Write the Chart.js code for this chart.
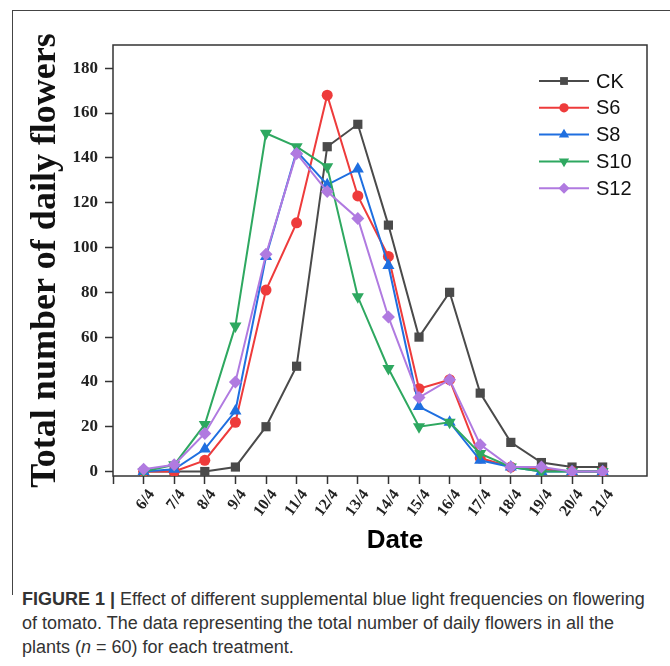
<!DOCTYPE html>
<html>
<head>
<meta charset="utf-8">
<script src="https://cdn.jsdelivr.net/npm/chart.js@4.4.0/dist/chart.umd.min.js"></script>
<style>
  body { margin: 0; background: #fff; }
  #wrap { position: relative; width: 670px; height: 666px; overflow: hidden; background: #fff; }
  #frame { position: absolute; left: 12px; top: 10px; width: 700px; height: 584px; border-left: 1.5px solid #444; border-top: 1.5px solid #444; }
  #grafico { position: absolute; left: 0; top: 0; }
  #legenda { position: absolute; left: 22px; top: 587px; width: 648px; font-family: "Liberation Sans", Arial, sans-serif; font-size: 18px; line-height: 24px; color: #333; white-space: nowrap; }
</style>
</head>
<body>
<div id="wrap">
  <div id="frame"></div>
  <canvas id="grafico" width="670" height="580"></canvas>
  <div id="legenda"><b>FIGURE 1 |</b> Effect of different supplemental blue light frequencies on flowering<br>of tomato. The data representing the total number of daily flowers in all the<br>plants (<i>n</i> = 60) for each treatment.</div>
</div>
<script>
// dados
const datas = ['6/4', '7/4', '8/4', '9/4', '10/4', '11/4', '12/4', '13/4', '14/4', '15/4', '16/4', '17/4', '18/4', '19/4', '20/4', '21/4'];
const ck  = [0, 0, 0, 2, 20, 47, 145, 155, 110, 60, 80, 35, 13, 4, 2, 2];
const s6  = [0, 0, 5, 22, 81, 111, 168, 123, 96, 37, 41, 6, 2, 1, 0, 0];
const s8  = [0, 1, 10, 27, 96, 143, 128, 135, 92, 29, 22, 5, 2, 0, 0, 0];
const s10 = [0, 3, 21, 65, 151, 145, 136, 78, 46, 20, 22, 8, 2, 0, 0, 0];
const s12 = [1, 3, 17, 40, 97, 142, 125, 113, 69, 33, 41, 12, 2, 2, 0, 0];
const yTicks = [0, 20, 40, 60, 80, 100, 120, 140, 160, 180];

const serif = "'Liberation Serif', 'Times New Roman', serif";
const sans = "'Liberation Sans', Arial, sans-serif";

function pontos(valores) {
    return valores.map((v, i) => ({ x: parseInt(datas[i]), y: v }));
}

function serie(nome, valores, cor, estilo, raio, rot, ordem) {
    return {
        label: nome,
        data: pontos(valores),
        borderColor: cor,
        backgroundColor: cor,
        borderWidth: 2,
        pointStyle: estilo,
        pointRadius: raio,
        pointHoverRadius: raio,
        pointRotation: rot,
        pointBorderWidth: 0,
        order: ordem
    };
}

const datasets = [
    serie('CK', ck, '#4a4a4a', 'rect', 6.5, 0, 5),
    serie('S6', s6, '#ee3b3b', 'circle', 5.5, 0, 4),
    serie('S8', s8, '#1f6fe0', 'triangle', 7, 0, 3),
    serie('S10', s10, '#2ea860', 'triangle', 7, 180, 2),
    serie('S12', s12, '#b07ae0', 'rectRot', 6.5, 0, 1)
];

// moldura do gráfico
const moldura = {
    id: 'moldura',
    beforeDatasetsDraw(chart) {
        const { ctx, chartArea: a } = chart;
        ctx.save();
        ctx.strokeStyle = '#333';
        ctx.lineWidth = 1.5;
        ctx.strokeRect(a.left, a.top, a.right - a.left, a.bottom - a.top);
        ctx.restore();
    }
};

// legenda com linha + marcador, e título "Date"
const legendaLinhas = {
    id: 'legendaLinhas',
    afterDraw(chart) {
        const ctx = chart.ctx;
        ctx.save();
        chart.data.datasets.forEach((ds, i) => {
            const y = 81 + i * 26.8;
            ctx.strokeStyle = ds.borderColor;
            ctx.lineWidth = 2;
            ctx.beginPath();
            ctx.moveTo(539, y);
            ctx.lineTo(589, y);
            ctx.stroke();
            ctx.fillStyle = ds.backgroundColor;
            Chart.helpers.drawPoint(ctx, { pointStyle: ds.pointStyle, rotation: ds.pointRotation, radius: ds.pointRadius * 0.85, borderWidth: 0 }, 564, y);
            ctx.fillStyle = '#111';
            ctx.font = '20px ' + sans;
            ctx.textAlign = 'left';
            ctx.textBaseline = 'middle';
            ctx.fillText(ds.label, 596, y + 1);
        });
        ctx.fillStyle = '#000';
        ctx.font = 'bold 26px ' + sans;
        ctx.textAlign = 'center';
        ctx.textBaseline = 'alphabetic';
        ctx.fillText('Date', 395, 548);
        ctx.restore();
    }
};

new Chart(document.getElementById('grafico'), {
    type: 'line',
    data: { datasets: datasets },
    options: {
        responsive: false,
        animation: false,
        layout: { padding: { left: 13, top: 45, right: 23, bottom: 0 } },
        plugins: { legend: { display: false }, tooltip: { enabled: false } },
        scales: {
            x: {
                type: 'linear',
                min: 5,
                max: 22.45,
                afterFit: s => { s.height = 104; },
                afterBuildTicks: s => { s.ticks = s.ticks.filter(t => Number.isInteger(t.value)); },
                border: { display: false },
                grid: { drawOnChartArea: false, drawTicks: true, tickLength: 8, tickColor: '#333', tickWidth: 1.5 },
                ticks: {
                    stepSize: 1,
                    autoSkip: false,
                    maxRotation: 54,
                    minRotation: 54,
                    padding: 2,
                    labelOffset: 8,
                    color: '#222',
                    font: { family: serif, size: 16, weight: 'bold' },
                    callback: v => { const d = datas.find(l => parseInt(l) === v); return d || ''; }
                }
            },
            y: {
                min: -2,
                max: 190.4,
                afterFit: s => { s.width = 100; },
                afterBuildTicks: s => { s.ticks = yTicks.map(v => ({ value: v })); },
                border: { display: false },
                grid: { drawOnChartArea: false, drawTicks: true, tickLength: 8, tickColor: '#333', tickWidth: 1.5 },
                ticks: {
                    padding: 7,
                    color: '#222',
                    font: { family: serif, size: 17, weight: 'bold' }
                },
                title: {
                    display: true,
                    text: 'Total number of daily flowers',
                    color: '#111',
                    padding: { top: 11, bottom: 0 },
                    font: { family: serif, size: 36, weight: 'bold' }
                }
            }
        }
    },
    plugins: [moldura, legendaLinhas]
});
</script>
</body>
</html>
